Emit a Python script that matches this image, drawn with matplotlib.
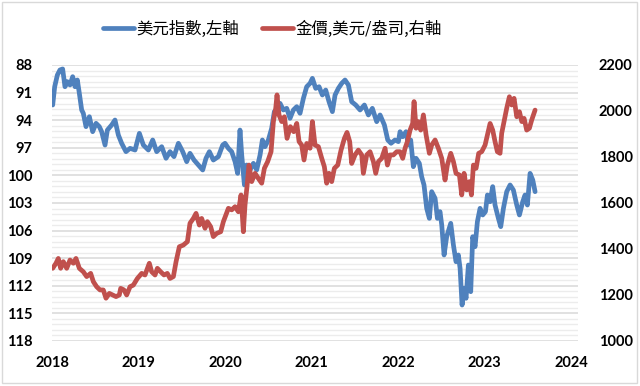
import numpy as np
import matplotlib
matplotlib.use("Agg")
import matplotlib.pyplot as plt
from matplotlib.ticker import FixedLocator
from matplotlib.patches import Rectangle
from matplotlib.font_manager import FontProperties

# ---------------- data ----------------
dxy_t = [2018.008, 2018.031, 2018.062, 2018.092, 2018.123, 2018.150, 2018.177, 2018.208, 2018.239, 2018.266,
         2018.293, 2018.316, 2018.343, 2018.362, 2018.393, 2018.432, 2018.470, 2018.509, 2018.547, 2018.574,
         2018.613, 2018.640, 2018.690, 2018.728, 2018.767, 2018.805, 2018.855, 2018.902, 2018.960, 2019.010,
         2019.056, 2019.114, 2019.164, 2019.210, 2019.268, 2019.318, 2019.364, 2019.410, 2019.461, 2019.511,
         2019.557, 2019.595, 2019.642, 2019.692, 2019.742, 2019.780, 2019.819, 2019.865, 2019.923, 2019.973,
         2020.000, 2020.039, 2020.077, 2020.116, 2020.146, 2020.173, 2020.193, 2020.224, 2020.250, 2020.289,
         2020.328, 2020.366, 2020.405, 2020.432, 2020.462, 2020.501, 2020.539, 2020.570, 2020.597, 2020.636,
         2020.674, 2020.713, 2020.751, 2020.790, 2020.829, 2020.867, 2020.906, 2020.944, 2020.983, 2021.010,
         2021.048, 2021.087, 2021.125, 2021.164, 2021.202, 2021.241, 2021.272, 2021.310, 2021.349, 2021.387,
         2021.426, 2021.464, 2021.511, 2021.561, 2021.611, 2021.657, 2021.703, 2021.753, 2021.792, 2021.842,
         2021.881, 2021.919, 2021.965, 2022.004, 2022.023, 2022.054, 2022.092, 2022.119, 2022.146, 2022.177,
         2022.208, 2022.246, 2022.273, 2022.300, 2022.331, 2022.362, 2022.389, 2022.428, 2022.455, 2022.485,
         2022.505, 2022.532, 2022.562, 2022.609, 2022.640, 2022.670, 2022.697, 2022.717, 2022.740, 2022.763,
         2022.786, 2022.813, 2022.840, 2022.863, 2022.890, 2022.917, 2022.948, 2022.979, 2023.010, 2023.033,
         2023.064, 2023.094, 2023.121, 2023.160, 2023.187, 2023.218, 2023.256, 2023.295, 2023.333, 2023.372,
         2023.403, 2023.441, 2023.468, 2023.495, 2023.526, 2023.557, 2023.584]
dxy_v = [92.35, 90.36, 89.09, 88.54, 88.43, 90.36, 89.81, 90.17, 89.27, 90.36,
         89.63, 91.08, 92.89, 93.25, 94.70, 93.62, 95.25, 94.34, 94.70, 95.25,
         96.70, 95.07, 94.52, 93.98, 95.61, 96.51, 97.42, 97.06, 97.24, 95.43,
         96.70, 97.24, 96.15, 97.42, 96.88, 98.14, 97.42, 97.96, 96.51, 97.42,
         98.51, 97.60, 98.33, 98.87, 99.41, 98.14, 97.42, 98.33, 97.96, 96.70,
         96.51, 97.06, 97.42, 98.51, 99.78, 95.07, 97.78, 101.04, 98.87, 99.41,
         98.69, 99.41, 97.78, 96.15, 96.88, 96.15, 94.88, 93.07, 92.89, 92.17,
         92.89, 92.71, 93.80, 92.89, 92.53, 93.25, 91.62, 90.36, 89.99, 89.45,
         90.54, 90.36, 91.26, 90.72, 91.99, 93.07, 91.26, 90.54, 89.99, 89.63,
         90.17, 91.99, 92.35, 92.89, 92.35, 93.43, 92.71, 94.16, 93.43, 94.52,
         96.15, 96.51, 96.15, 96.33, 95.25, 95.79, 95.25, 96.70, 96.15, 99.05,
         98.14, 98.69, 100.14, 101.04, 103.58, 104.67, 101.77, 102.49, 104.67, 103.94,
         105.39, 108.65, 106.66, 105.21, 107.57, 109.38, 108.65, 110.10, 114.09, 112.28,
         113.36, 109.74, 112.64, 106.66, 107.75, 105.03, 103.58, 104.30, 103.94, 102.13,
         102.86, 101.22, 103.22, 104.67, 105.57, 103.58, 101.77, 101.04, 101.59, 103.22,
         104.30, 102.86, 102.13, 103.22, 99.78, 100.50, 101.77]

gold_t = [2018.008, 2018.046, 2018.073, 2018.100, 2018.131, 2018.170, 2018.208, 2018.247, 2018.277, 2018.316,
          2018.362, 2018.401, 2018.447, 2018.478, 2018.516, 2018.555, 2018.593, 2018.624, 2018.663, 2018.701,
          2018.740, 2018.778, 2018.794, 2018.832, 2018.863, 2018.902, 2018.940, 2018.987, 2019.037, 2019.075,
          2019.125, 2019.152, 2019.191, 2019.218, 2019.256, 2019.295, 2019.333, 2019.364, 2019.403, 2019.434,
          2019.472, 2019.518, 2019.565, 2019.595, 2019.634, 2019.665, 2019.703, 2019.730, 2019.769, 2019.796,
          2019.834, 2019.865, 2019.904, 2019.950, 2019.981, 2020.039, 2020.077, 2020.116, 2020.154, 2020.185,
          2020.212, 2020.231, 2020.254, 2020.277, 2020.308, 2020.347, 2020.385, 2020.424, 2020.455, 2020.493,
          2020.532, 2020.559, 2020.586, 2020.601, 2020.624, 2020.655, 2020.686, 2020.717, 2020.755, 2020.794,
          2020.829, 2020.856, 2020.886, 2020.913, 2020.944, 2020.983, 2021.010, 2021.040, 2021.079, 2021.118,
          2021.148, 2021.175, 2021.202, 2021.233, 2021.264, 2021.303, 2021.341, 2021.380, 2021.410, 2021.441,
          2021.464, 2021.503, 2021.541, 2021.580, 2021.599, 2021.638, 2021.676, 2021.715, 2021.742, 2021.773,
          2021.811, 2021.850, 2021.877, 2021.908, 2021.946, 2021.985, 2022.023, 2022.054, 2022.081, 2022.108,
          2022.139, 2022.169, 2022.185, 2022.208, 2022.235, 2022.262, 2022.293, 2022.324, 2022.362, 2022.389,
          2022.428, 2022.466, 2022.505, 2022.543, 2022.570, 2022.609, 2022.640, 2022.670, 2022.709, 2022.736,
          2022.763, 2022.794, 2022.825, 2022.848, 2022.871, 2022.902, 2022.932, 2022.967, 2023.006, 2023.033,
          2023.064, 2023.094, 2023.121, 2023.148, 2023.179, 2023.198, 2023.225, 2023.256, 2023.287, 2023.314,
          2023.341, 2023.372, 2023.403, 2023.430, 2023.457, 2023.487, 2023.518, 2023.545, 2023.565, 2023.584]
gold_v = [1316, 1338, 1359, 1316, 1345, 1316, 1352, 1338, 1359, 1316,
          1301, 1280, 1294, 1258, 1236, 1222, 1222, 1186, 1207, 1200,
          1193, 1200, 1229, 1222, 1200, 1236, 1243, 1272, 1294, 1287,
          1338, 1301, 1287, 1316, 1301, 1287, 1294, 1272, 1280, 1345,
          1410, 1417, 1432, 1512, 1533, 1555, 1504, 1533, 1490, 1519,
          1497, 1454, 1468, 1475, 1519, 1577, 1570, 1584, 1562, 1635,
          1475, 1591, 1671, 1765, 1693, 1729, 1707, 1686, 1751, 1780,
          1823, 1954, 2012, 2070, 1983, 1954, 1975, 1881, 1932, 1910,
          1946, 1867, 1852, 1787, 1859, 1838, 1954, 1852, 1845, 1794,
          1758, 1686, 1729, 1693, 1751, 1765, 1830, 1881, 1907, 1867,
          1772, 1809, 1830, 1809, 1729, 1809, 1823, 1780, 1729, 1780,
          1794, 1838, 1765, 1809, 1809, 1823, 1823, 1794, 1838, 1867,
          1917, 1946, 2041, 1925, 1954, 1917, 1983, 1896, 1816, 1852,
          1874, 1838, 1794, 1700, 1765, 1816, 1780, 1729, 1722, 1635,
          1729, 1657, 1693, 1635, 1765, 1751, 1816, 1823, 1852, 1896,
          1946, 1917, 1867, 1823, 1816, 1903, 1954, 2012, 2062, 2026,
          2055, 1975, 1997, 1954, 1968, 1917, 1925, 1961, 1983, 2004]

left_ticks = [88, 91, 94, 97, 100, 103, 106, 109, 112, 115, 118]
right_ticks = [1000, 1200, 1400, 1600, 1800, 2000, 2200]
year_ticks = [2018, 2019, 2020, 2021, 2022, 2023, 2024]
labels = ["美元指數,左軸", "金價,美元/盎司,右軸"]

# ---------------- styling ----------------
BLUE = "#4F81BD"
RED = "#C0504D"
tick_font = dict(family="Lato", weight="bold", size=10.5)

fig = plt.figure(figsize=(6.4, 3.86), dpi=100)
ax = fig.add_axes([52 / 640, 1 - 341 / 386, 526 / 640, 276 / 386])

l1, = ax.plot(dxy_t, dxy_v, color=BLUE, lw=3.4, solid_joinstyle="round", solid_capstyle="round")
ax.set_ylim(118, 88)
ax.set_yticks(left_ticks)
ax.yaxis.set_minor_locator(FixedLocator(np.arange(88, 118.001, 0.6)))
ax.grid(which="major", axis="y", color="#d9d9d9", lw=1.1)
ax.grid(which="minor", axis="y", color="#ececec", lw=1.0)
ax.set_axisbelow(True)
ax.set_xlim(2018, 2024.08)
ax.set_xticks(year_ticks)
ax.set_xticklabels([str(y) for y in year_ticks])
ax.tick_params(which="both", length=0)
ax.tick_params(axis="y", pad=14)
ax.tick_params(axis="x", pad=11)
for lab in ax.get_yticklabels() + ax.get_xticklabels():
    lab.set_fontproperties(FontProperties(**tick_font))
for s in ax.spines.values():
    s.set_visible(False)

ax2 = ax.twinx()
l2, = ax2.plot(gold_t, gold_v, color=RED, lw=3.4, solid_joinstyle="round", solid_capstyle="round")
ax2.set_ylim(1000, 2200)
ax2.set_yticks(right_ticks)
ax2.tick_params(which="both", length=0, pad=15)
for lab in ax2.get_yticklabels():
    lab.set_fontproperties(FontProperties(**tick_font))
for s in ax2.spines.values():
    s.set_visible(False)
ax2.set_xlim(2018, 2024.08)

leg = fig.legend([l1, l2], labels, loc="center left", bbox_to_anchor=(88 / 640, 1 - 29 / 386),
                 ncol=2, frameon=False, handlelength=1.9, handletextpad=0.15, columnspacing=1.4,
                 prop=FontProperties(family=["Noto Sans CJK TC", "DejaVu Sans"], size=11.8))

fig.patches.append(Rectangle((2 / 640, 3 / 386), 635 / 640, 381 / 386, transform=fig.transFigure,
                             fill=False, edgecolor="#d9d9d9", lw=1))

fig.savefig("out.png", dpi=100)
